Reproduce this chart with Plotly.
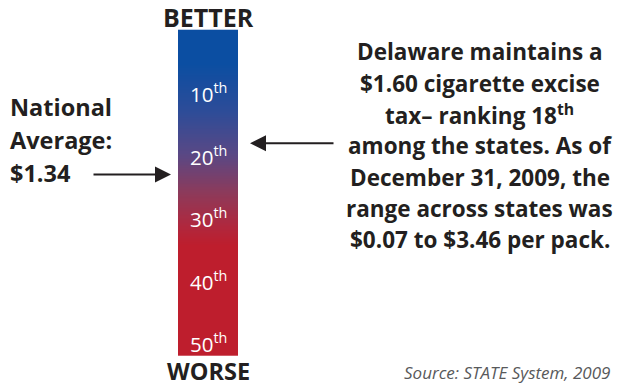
import numpy as np
import plotly.graph_objects as go

# ---- data ----
rank_ticks = [10, 20, 30, 40, 50]
rank_labels = ["10<sup>th</sup>", "20<sup>th</sup>", "30<sup>th</sup>", "40<sup>th</sup>", "50<sup>th</sup>"]
delaware_rank = 18
national_avg_rank = 23
scale_min, scale_max = 0, 52
left_lines = ["National", "Average:", "$1.34"]
right_lines = [
    "Delaware maintains a",
    "$1.60 cigarette excise",
    "tax\u2013 ranking 18<sup>th</sup>",
    "among the states. As of",
    "December 31, 2009, the",
    "range across states was",
    "$0.07 to $3.46 per pack.",
]
source_text = "Source: STATE System, 2009"

W, H = 622, 388
FONT = "Open Sans"
DARK = "#231f20"

ranks = np.arange(scale_min, scale_max + 0.25, 0.25)
z = [[r] for r in ranks]

colorscale = [
    [0.0, "#0b4ea2"],
    [0.10, "#0b4ea2"],
    [0.25, "#2e4c98"],
    [0.38, "#5a4885"],
    [0.50, "#8e3a5a"],
    [0.60, "#b0283e"],
    [0.66, "#be1e2d"],
    [1.0, "#be1e2d"],
]

fig = go.Figure(go.Heatmap(
    z=z, x=[0], y=ranks, colorscale=colorscale, showscale=False,
    zsmooth="best", hoverinfo="skip", zmin=scale_min, zmax=scale_max,
))

bar_left, bar_right = 178, 238
bar_top, bar_bottom = 28, 356
fig.update_layout(
    width=W, height=H, margin=dict(l=0, r=0, t=0, b=0),
    paper_bgcolor="white", plot_bgcolor="white",
    xaxis=dict(domain=[bar_left / W, bar_right / W], visible=False, range=[-0.5, 0.5]),
    yaxis=dict(domain=[1 - bar_bottom / H, 1 - bar_top / H], visible=False,
               range=[scale_max, scale_min - 0.4]),
    showlegend=False,
)

ann = []
cx = (bar_left + bar_right) / 2 / W
for r, lab in zip(rank_ticks, rank_labels):
    ann.append(dict(x=cx, xref="paper", y=r, yref="y", text=lab, showarrow=False,
                    font=dict(family=FONT, size=20.5, color="white"), xanchor="center", yanchor="middle"))

ann.append(dict(x=cx, xref="paper", y=1 - 17 / H, yref="paper", text="<b>BETTER</b>", showarrow=False,
                font=dict(family=FONT, size=25, color=DARK), xanchor="center", yanchor="middle"))
ann.append(dict(x=cx, xref="paper", y=1 - 371 / H, yref="paper", text="<b>WORSE</b>", showarrow=False,
                font=dict(family=FONT, size=23.5, color=DARK), xanchor="center", yanchor="middle",
                borderpad=0))

# left text
for i, t in enumerate(left_lines):
    ann.append(dict(x=8 / W, xref="paper", y=1 - (107 + 33 * i) / H, yref="paper", text="<b>%s</b>" % t,
                    showarrow=False, font=dict(family=FONT, size=23.5, color=DARK),
                    xanchor="left", yanchor="middle"))

# right text
for i, t in enumerate(right_lines):
    ann.append(dict(x=480 / W, xref="paper", y=1 - (52 + 31.3 * i) / H, yref="paper", text="<b>%s</b>" % t,
                    showarrow=False, font=dict(family=FONT, size=22.5, color=DARK),
                    xanchor="center", yanchor="middle"))

# arrows
ann.append(dict(x=171 / W, xref="paper", y=national_avg_rank, yref="y", text="", showarrow=True,
                ax=-79, ay=0, arrowhead=2, arrowsize=1.6, arrowwidth=2, arrowcolor=DARK))
ann.append(dict(x=250 / W, xref="paper", y=delaware_rank, yref="y", text="", showarrow=True,
                ax=85, ay=0, arrowhead=2, arrowsize=1.6, arrowwidth=2, arrowcolor=DARK))

ann.append(dict(x=612 / W, xref="paper", y=1 - 372 / H, yref="paper", text="<i>%s</i>" % source_text,
                showarrow=False, font=dict(family=FONT, size=17, color="#58595b"),
                xanchor="right", yanchor="middle"))

fig.update_layout(annotations=ann)
fig.write_html(
    "out.html",
    config={"displayModeBar": False},
    post_script="document.body.style.margin='0';document.body.style.padding='0';document.body.style.overflow='hidden';",
)
